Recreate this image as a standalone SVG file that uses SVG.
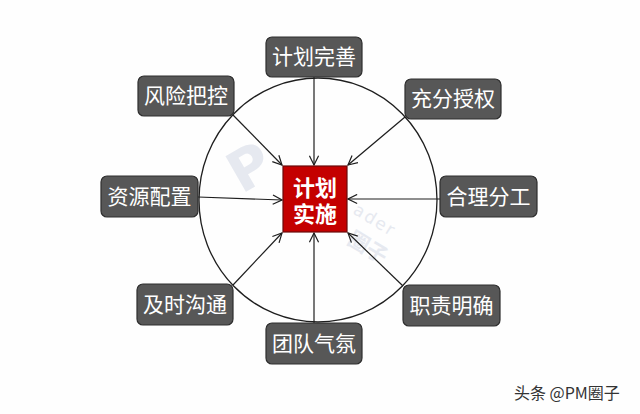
<svg xmlns="http://www.w3.org/2000/svg" width="640" height="414" viewBox="0 0 640 414">
<defs>
<style>
.box{fill:#575757;stroke:#2e2e2e;stroke-width:1.2}
.lbl{fill:#fff;font-family:"Noto Sans CJK SC","Noto Sans",sans-serif;font-size:21px;text-anchor:middle}
.ctr{fill:#fff;font-family:"Noto Sans CJK SC","Noto Sans",sans-serif;font-size:22px;font-weight:bold;text-anchor:middle}
.con{stroke:#1e1e1e;stroke-width:1.2;fill:none;marker-end:url(#arr)}
.wm{fill:#e6e9f0;font-family:"DejaVu Sans","Noto Sans CJK SC",sans-serif}
</style>
<marker id="arr" viewBox="0 0 12 12" refX="11" refY="6" markerWidth="11" markerHeight="11" markerUnits="userSpaceOnUse" orient="auto">
<path d="M1,1 L11,6 L1,11" fill="none" stroke="#1e1e1e" stroke-width="1.3"/>
</marker>
</defs>
<rect width="640" height="414" fill="#fefefe"/>
<g id="watermark">
<text class="wm" x="228" y="186" font-size="56" font-weight="bold" transform="rotate(-30 250 165)">P</text>
<text class="wm" x="352" y="213" font-size="17" letter-spacing="2" transform="rotate(31 352 213)">ader</text>
<text class="wm" x="346" y="243" font-size="21" font-weight="bold" transform="rotate(31 346 243)">圈子</text>
</g>
<ellipse id="ring" cx="318" cy="200" rx="119" ry="122" fill="none" stroke="#1e1e1e" stroke-width="1.3"/>
<g id="connectors">
<line class="con" x1="314" y1="77" x2="314" y2="165"/>
<line class="con" x1="233" y1="115" x2="282" y2="165"/>
<line class="con" x1="405" y1="117" x2="348" y2="165"/>
<line class="con" x1="198" y1="197" x2="282" y2="200"/>
<line class="con" x1="441" y1="199" x2="348" y2="199"/>
<line class="con" x1="233" y1="285" x2="282" y2="233"/>
<line class="con" x1="314" y1="323" x2="314" y2="233"/>
<line class="con" x1="403" y1="286" x2="348" y2="233"/>
</g>
<g id="center">
<rect x="283" y="166" width="64" height="66" fill="#c40000" stroke="#6a0a0a" stroke-width="1.2"/>
<text class="ctr" x="315" y="196">计划<tspan x="315" dy="26">实施</tspan></text>
</g>
<g id="n1"><rect class="box" x="266" y="37" width="96" height="40" rx="6"/><text class="lbl" x="314" y="64">计划完善</text></g>
<g id="n2"><rect class="box" x="138" y="76" width="96" height="40" rx="6"/><text class="lbl" x="186" y="103">风险把控</text></g>
<g id="n3"><rect class="box" x="405" y="79" width="96" height="40" rx="6"/><text class="lbl" x="453" y="106">充分授权</text></g>
<g id="n4"><rect class="box" x="101" y="176" width="97" height="41" rx="6"/><text class="lbl" x="149.5" y="204">资源配置</text></g>
<g id="n5"><rect class="box" x="440" y="176" width="97" height="41" rx="6"/><text class="lbl" x="488.5" y="204">合理分工</text></g>
<g id="n6"><rect class="box" x="137" y="284" width="96" height="41" rx="6"/><text class="lbl" x="185" y="312">及时沟通</text></g>
<g id="n7"><rect class="box" x="266" y="323" width="96" height="41" rx="6"/><text class="lbl" x="314" y="351">团队气氛</text></g>
<g id="n8"><rect class="box" x="403" y="285" width="97" height="41" rx="6"/><text class="lbl" x="451.5" y="313">职责明确</text></g>
<text x="514" y="399" font-family="Noto Sans CJK SC,sans-serif" font-size="16" fill="#333">头条 @PM圈子</text>
</svg>
